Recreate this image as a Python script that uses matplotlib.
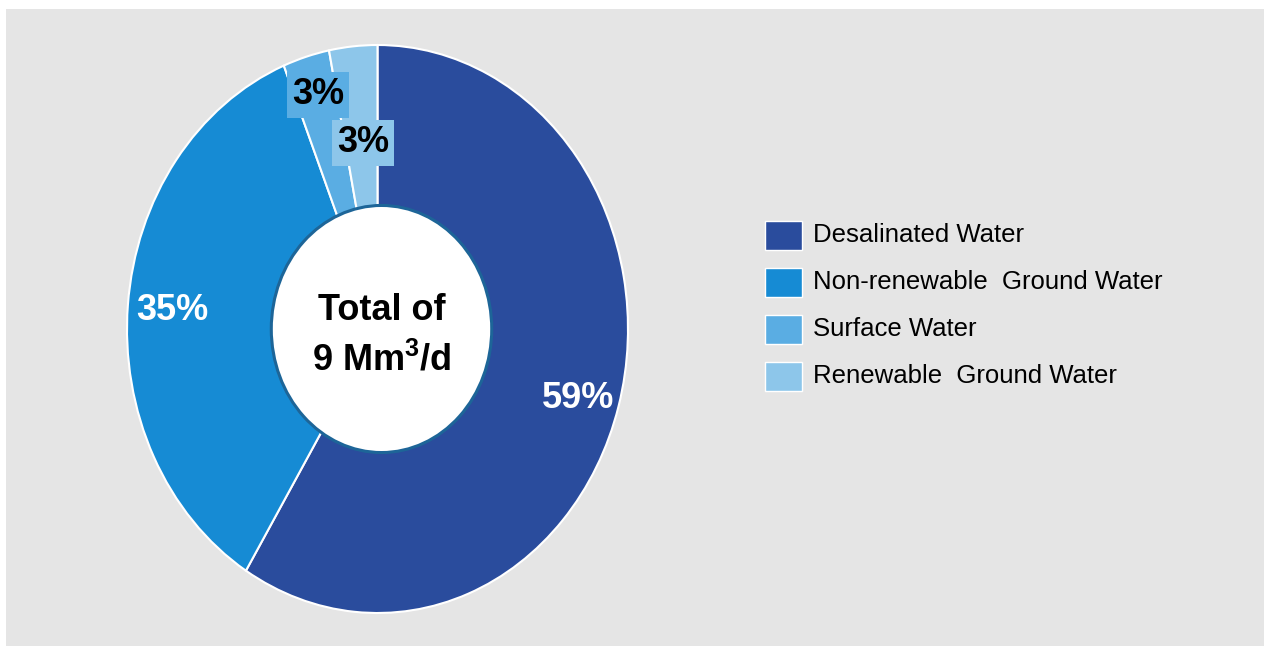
import matplotlib.pyplot as plt
from matplotlib.patches import Ellipse, Rectangle

sources = ["Desalinated Water", "Non-renewable  Ground Water", "Surface Water", "Renewable  Ground Water"]
shares = [58.8, 35.1, 3.0, 3.1]
share_labels = ["59%", "35%", "3%", "3%"]
colours = ["#2a4c9d", "#168bd4", "#5aade3", "#8dc6ea"]

plt.rcParams['font.family'] = ['Liberation Sans', 'DejaVu Sans']
plt.rcParams['mathtext.fontset'] = 'custom'
plt.rcParams['mathtext.rm'] = 'Liberation Sans:bold'
plt.rcParams['mathtext.default'] = 'rm'

W, H = 1264, 646
fig = plt.figure(figsize=(W / 100, H / 100), dpi=100)
fig.patch.set_facecolor("white")
fig.patches.append(Rectangle((6 / W, 0), 1, 1 - 9 / H, transform=fig.transFigure,
                             facecolor="#e5e5e5", edgecolor="none", zorder=-10))

# donut box in pixels: x 127..628, y 45..613 (slightly taller than wide)
ax = fig.add_axes([127 / W, (H - 613) / H, 501 / W, 568 / H])
wedges, _ = ax.pie(shares, colors=colours, startangle=90, counterclock=False,
                   radius=1, wedgeprops=dict(width=0.62, edgecolor="white", linewidth=1.5))
ax.set_aspect("auto")
ax.set_xlim(-1, 1)
ax.set_ylim(-1, 1)
ax.axis("off")

ax.add_patch(Ellipse((0.016, 0.0), 0.88, 0.87, facecolor="white",
                     edgecolor="#1d6598", linewidth=2.2, zorder=5))
ax.text(0.016, 0.066, "Total of", ha="center", va="center",
        fontsize=26, fontweight="bold", zorder=6)
ax.text(0.016, -0.112, "9 Mm$^{3}$/d", ha="center", va="center",
        fontsize=26, fontweight="bold", zorder=6)


def px(x, y):
    # pixel position of the reference -> data coords of the donut axes
    return (x - 377.5) / 250.5, (329 - y) / 284


ax.text(*px(578, 398), share_labels[0], color="white", fontsize=26,
        fontweight="bold", ha="center", va="center")
ax.text(*px(172, 310), share_labels[1], color="white", fontsize=26,
        fontweight="bold", ha="center", va="center")
ax.text(*px(318, 95), share_labels[2], color="black", fontsize=26,
        fontweight="bold", ha="center", va="center", zorder=7,
        bbox=dict(boxstyle="square,pad=0.15", facecolor=colours[2], edgecolor="none"))
ax.text(*px(363, 143), share_labels[3], color="black", fontsize=26,
        fontweight="bold", ha="center", va="center", zorder=7,
        bbox=dict(boxstyle="square,pad=0.15", facecolor=colours[3], edgecolor="none"))

# legend
row_y = [235, 282, 329, 376]
for name, col, y in zip(sources, colours, row_y):
    fig.patches.append(Rectangle((765 / W, (H - y - 14.5) / H), 37 / W, 29 / H,
                                 transform=fig.transFigure, facecolor=col,
                                 edgecolor="white", linewidth=1))
    fig.text(813 / W, (H - y) / H, name, fontsize=18.5, ha="left", va="center")

fig.savefig("out.png", dpi=100)
